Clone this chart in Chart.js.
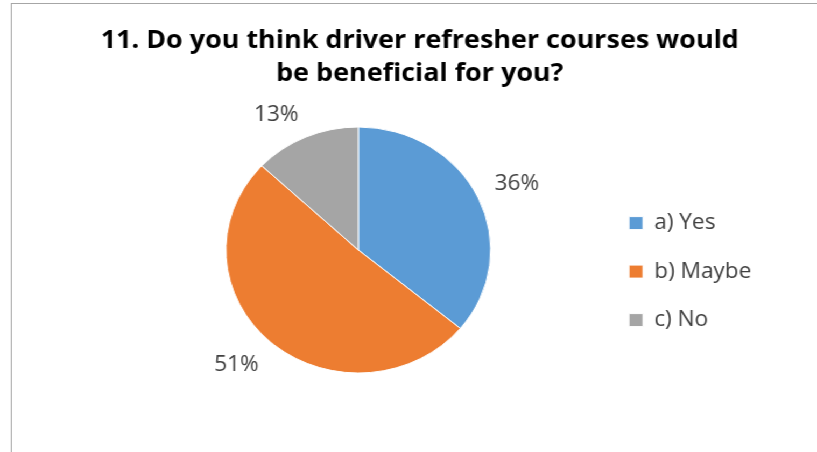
<!DOCTYPE html>
<html>
<head>
<meta charset="utf-8">
<script src="https://cdn.jsdelivr.net/npm/chart.js@4.4.1/dist/chart.umd.min.js"></script>
<style>
  html, body { margin: 0; padding: 0; background: #fff; overflow: hidden; }
  /* chart is laid out at 759px wide and stretched out to the full 817px */
  #frame { position: relative; width: 759px; height: 452px; transform: scaleX(1.0764); transform-origin: 0 0; }
  #edge { position: absolute; left: 10px; top: 3px; width: 900px; height: 600px; border: 1px solid #a6a6a6; }
  #holder { position: absolute; left: 0; top: 0; width: 759px; height: 452px; }
</style>
</head>
<body>
<div id="frame">
  <div id="edge"></div>
  <div id="holder"><canvas id="pieChart"></canvas></div>
</div>
<script>
var categories = ['a) Yes', 'b) Maybe', 'c) No'];
var shares = [36, 51, 13];
var sliceColors = ['#5B9BD5', '#ED7D31', '#A5A5A5'];
var titleLines = ['11. Do you think driver refresher courses would', 'be beneficial for you?'];

var labelFont = '"Open Sans"';
var titleCenterX = 390;

// percentage labels outside each slice: the label's inner corner sits on the
// slice's middle ray, a little past the rim
var outsideLabels = {
    id: 'outsideLabels',
    afterDatasetsDraw: function(chart) {
        var ctx = chart.ctx;
        var meta = chart.getDatasetMeta(0);
        var size = 21;
        ctx.save();
        ctx.font = size + 'px ' + labelFont;
        ctx.fillStyle = '#404040';
        ctx.textAlign = 'center';
        ctx.textBaseline = 'alphabetic';
        meta.data.forEach(function(arc, i) {
            var p = arc.getProps(['x', 'y', 'startAngle', 'endAngle', 'outerRadius'], true);
            var mid = (p.startAngle + p.endAngle) / 2;
            var text = shares[i] + '%';
            var halfW = ctx.measureText(text).width / 2;
            var halfH = 8;
            var cx = Math.cos(mid), cy = Math.sin(mid);
            var r = p.outerRadius + 17;
            var x = p.x + cx * r + (cx < 0 ? -halfW : halfW);
            var y = p.y + cy * r + (cy < 0 ? -halfH : halfH);
            // digits centred on y
            ctx.fillText(text, x, y + size * 0.357);
        });
        ctx.restore();
    }
};

// keep the title centred over the whole frame rather than between the paddings
var titleShift = {
    id: 'titleShift',
    afterLayout: function(chart) {
        var t = chart.titleBlock;
        if (!t) return;
        var half = (t.right - t.left) / 2;
        t.left = titleCenterX - half;
        t.right = titleCenterX + half;
    }
};

var ctx = document.getElementById('pieChart').getContext('2d');
new Chart(ctx, {
    type: 'pie',
    data: {
        labels: categories,
        datasets: [{
            data: shares,
            backgroundColor: sliceColors,
            borderColor: '#ffffff',
            borderWidth: 1,
            radius: 123
        }]
    },
    options: {
        responsive: true,
        maintainAspectRatio: false,
        animation: false,
        layout: { padding: { left: 109, right: 51, top: 0, bottom: 44 } },
        plugins: {
            tooltip: { enabled: false },
            title: {
                display: true,
                text: titleLines,
                color: '#000000',
                font: { family: labelFont, size: 25, weight: 'bold', lineHeight: 33 / 25 },
                padding: { top: 24.5, bottom: 1.5 }
            },
            legend: {
                position: 'right',
                fullSize: false,
                title: { display: true, text: ' ', font: { size: 12, lineHeight: 1.2 }, padding: { top: 28.8, bottom: 0 } },
                labels: {
                    boxWidth: 13,
                    boxHeight: 13,
                    padding: 27.5,
                    color: '#404040',
                    font: { family: labelFont, size: 21 }
                }
            }
        }
    },
    plugins: [outsideLabels, titleShift]
});
</script>
</body>
</html>
